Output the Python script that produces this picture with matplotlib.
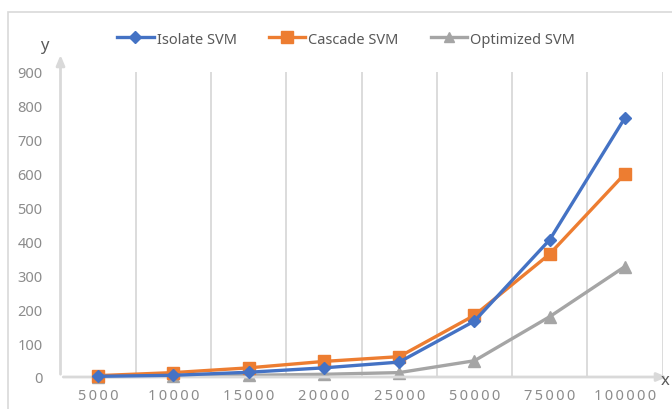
import matplotlib
matplotlib.use("Agg")
import matplotlib.pyplot as plt
from matplotlib.patches import Rectangle
from matplotlib.lines import Line2D

plt.rcParams['font.family'] = ['Noto Sans', 'DejaVu Sans']

categories = ["5000", "10000", "15000", "20000", "25000", "50000", "75000", "100000"]
isolate_svm = [2, 5, 14, 27, 44, 165, 405, 765]
cascade_svm = [4, 13, 27, 46, 60, 182, 363, 600]
optimized_svm = [1, 2, 5, 8, 13, 48, 178, 326]
y_ticks = [0, 100, 200, 300, 400, 500, 600, 700, 800, 900]

W, H = 672, 410
fig = plt.figure(figsize=(W / 100, H / 100), dpi=100)

def fx(px):
    return px / W

def fy(py):
    return 1 - py / H

# outer chart frame
fig.patches.append(Rectangle((fx(8), fy(430)), fx(700), fy(13) - fy(430),
                             transform=fig.transFigure, fill=False,
                             edgecolor='#d9d9d9', linewidth=1.2))

left, right, top, bottom = 60.5, 662.6, 73, 378
ax = fig.add_axes([fx(left), fy(bottom), fx(right - left), fy(top) - fy(bottom)])
n = len(categories)
ax.set_xlim(-0.5, n - 0.5)
ax.set_ylim(0, 900)
for s in ax.spines.values():
    s.set_visible(False)

grid_c = '#d9d9d9'
for i in range(n):
    ax.axvline(i + 0.5, color=grid_c, linewidth=1.3, zorder=0)

# axes with arrow heads
ax.annotate('', xy=(0, 1.065), xytext=(0, 0), xycoords='axes fraction',
            arrowprops=dict(arrowstyle='-|>,head_length=0.6,head_width=0.25',
                            color=grid_c, lw=2), annotation_clip=False)
ax.annotate('', xy=(1.012, 0), xytext=(0, 0), xycoords='axes fraction',
            arrowprops=dict(arrowstyle='-|>,head_length=0.6,head_width=0.25',
                            color=grid_c, lw=2), annotation_clip=False)

xs = list(range(n))
ax.plot(xs, isolate_svm, color='#4472C4', lw=2.4, marker='D', ms=6.5,
        label='Isolate SVM', zorder=4, clip_on=False)
ax.plot(xs, cascade_svm, color='#ED7D31', lw=2.4, marker='s', ms=8.5,
        label='Cascade SVM', zorder=3, clip_on=False)
ax.plot(xs, optimized_svm, color='#A5A5A5', lw=2.4, marker='^', ms=8.5,
        label='Optimized SVM', zorder=2, clip_on=False)

tick_c = '#8c8c8c'
ax.set_yticks(y_ticks)
ax.set_yticklabels([str(v) for v in y_ticks], color=tick_c, fontsize=10.5)
ax.set_xticks(xs)
ax.set_xticklabels(['\u2009'.join(c) for c in categories], color=tick_c, fontsize=10.5)
ax.tick_params(axis='both', length=0)
ax.tick_params(axis='y', pad=13)
ax.tick_params(axis='x', pad=8)

fig.text(fx(44), fy(46), 'y', color='#595959', fontsize=12, ha='center', va='center')
fig.text(fx(665), fy(381), 'x', color='#595959', fontsize=12, ha='center', va='center')

handles = [
    Line2D([], [], color='#4472C4', lw=2.4, marker='D', ms=6),
    Line2D([], [], color='#ED7D31', lw=2.4, marker='s', ms=8),
    Line2D([], [], color='#A5A5A5', lw=2.4, marker='^', ms=7),
]
fig.legend(handles, ['Isolate SVM', 'Cascade SVM', 'Optimized SVM'],
           loc='center', bbox_to_anchor=(fx(346), fy(40)), ncol=3, frameon=False,
           fontsize=10.5, labelcolor='#595959', handlelength=2.5,
           handletextpad=0.2, columnspacing=2.2)

fig.savefig('out.png', dpi=100)
